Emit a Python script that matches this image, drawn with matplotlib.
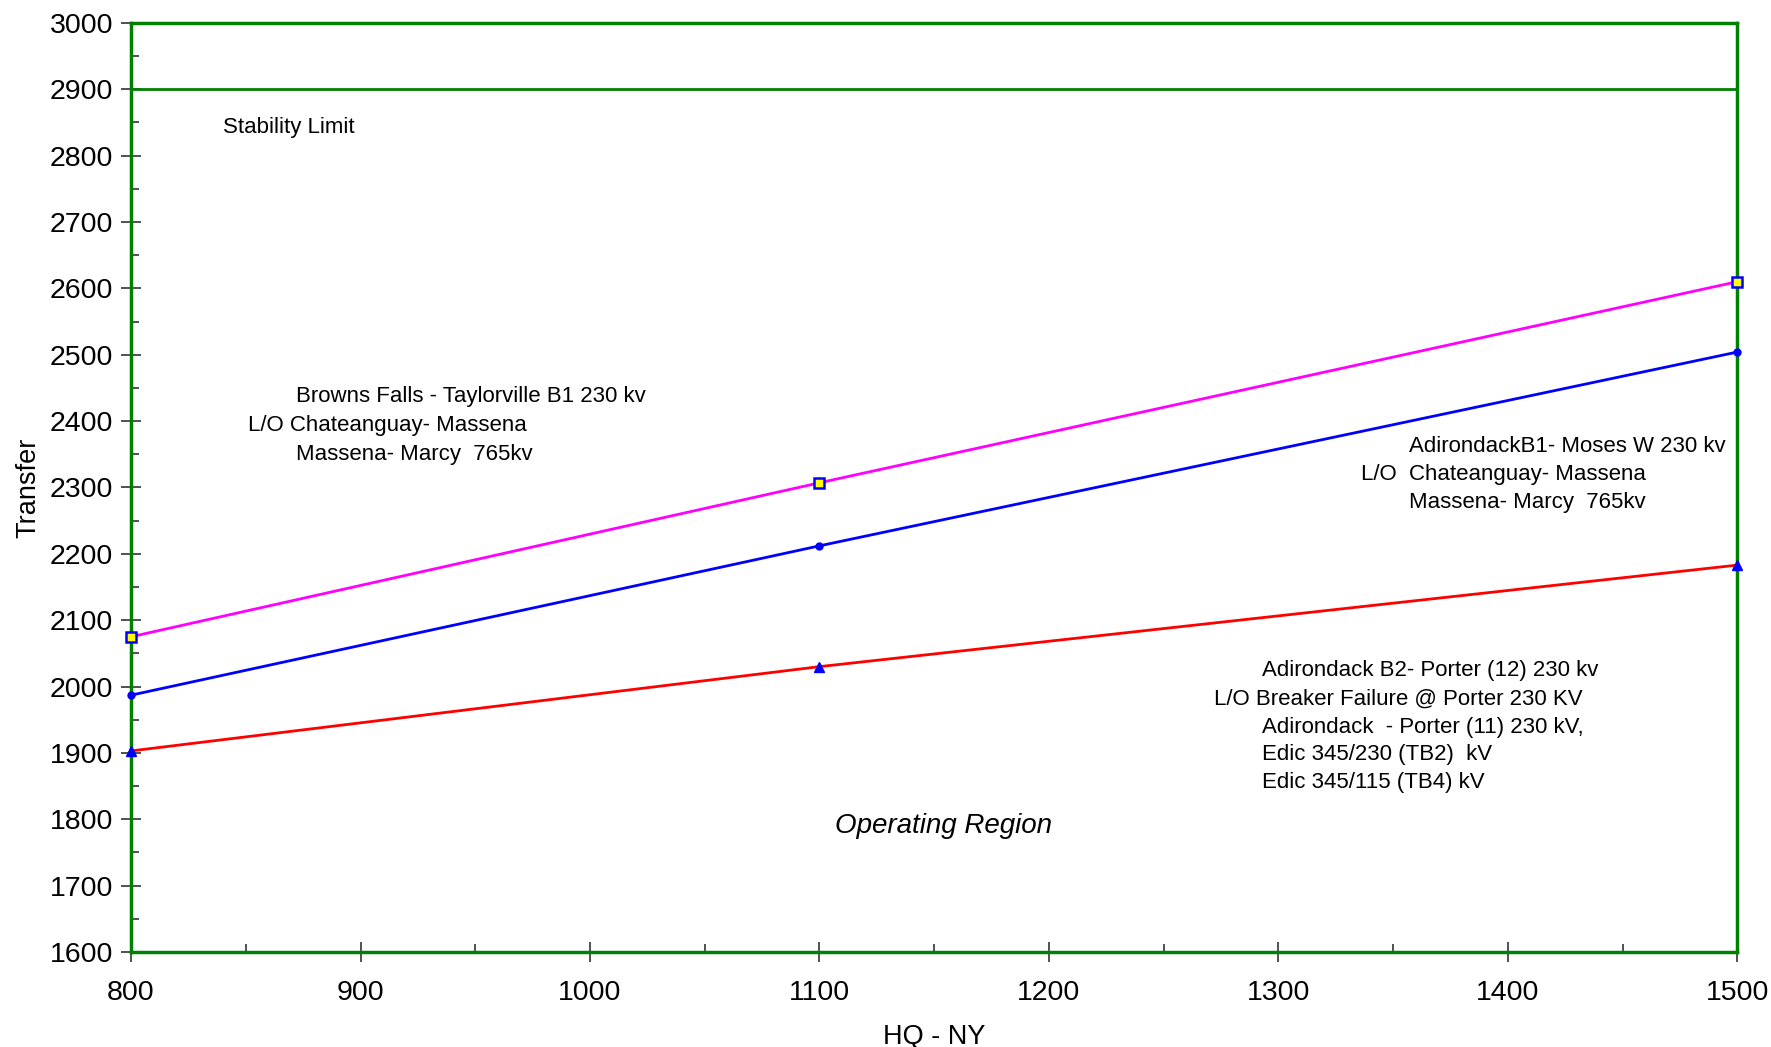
import matplotlib.pyplot as plt
from matplotlib.ticker import MultipleLocator

plt.rcParams['font.family'] = ['Liberation Sans', 'DejaVu Sans']

# data
hq_ny = [800, 1100, 1500]
browns_falls = [2075, 2307, 2610]
adirondack_b1 = [1987, 2212, 2504]
adirondack_b2 = [1903, 2030, 2183]
stability_limit = 2900

green = '#008000'

fig = plt.figure(figsize=(17.71, 10.47), dpi=100)
ax = fig.add_axes([0.074, 0.0907, 0.907, 0.8875])

# stability limit line
ax.axhline(stability_limit, color=green, linewidth=2, zorder=2)

ax.plot(hq_ny, browns_falls, color='#ff00ff', linewidth=2, marker='s',
        markersize=7, markerfacecolor='yellow', markeredgecolor='blue',
        markeredgewidth=1.8, zorder=3, clip_on=False)
ax.plot(hq_ny, adirondack_b1, color='blue', linewidth=2, marker='o',
        markersize=5, markerfacecolor='blue', markeredgecolor='blue',
        zorder=3, clip_on=False)
ax.plot(hq_ny, adirondack_b2, color='red', linewidth=2, marker='^',
        markersize=7, markerfacecolor='blue', markeredgecolor='blue',
        zorder=3, clip_on=False)

ax.set_xlim(800, 1500)
ax.set_ylim(1600, 3000)
ax.xaxis.set_major_locator(MultipleLocator(100))
ax.xaxis.set_minor_locator(MultipleLocator(50))
ax.yaxis.set_major_locator(MultipleLocator(100))
ax.yaxis.set_minor_locator(MultipleLocator(50))

ax.tick_params(which='major', direction='inout', length=14, width=1.2,
               color='#333333', labelsize=20.5, pad=13)
ax.tick_params(which='minor', direction='in', length=6, width=1.2,
               color='#333333')
ax.tick_params(axis='y', which='major', pad=6)

for s in ax.spines.values():
    s.set_color(green)
    s.set_linewidth(2.5)

ax.set_xlabel('HQ - NY', fontsize=19.5, labelpad=13)
ax.set_ylabel('Transfer', fontsize=19.5, labelpad=6)

# annotations
fs = 16
ax.text(840, 2843, 'Stability Limit', fontsize=fs, va='center')

ax.text(872, 2437, 'Browns Falls - Taylorville B1 230 kv', fontsize=fs, va='center')
ax.text(851, 2393, 'L/O Chateanguay- Massena', fontsize=fs, va='center')
ax.text(872, 2350, 'Massena- Marcy  765kv', fontsize=fs, va='center')

ax.text(1357, 2362, 'AdirondackB1- Moses W 230 kv', fontsize=fs, va='center')
ax.text(1336, 2320, 'L/O  Chateanguay- Massena', fontsize=fs, va='center')
ax.text(1357, 2277, 'Massena- Marcy  765kv', fontsize=fs, va='center')

ax.text(1293, 2024, 'Adirondack B2- Porter (12) 230 kv', fontsize=fs, va='center')
ax.text(1272, 1981, 'L/O Breaker Failure @ Porter 230 KV', fontsize=fs, va='center')
ax.text(1293, 1939, 'Adirondack  - Porter (11) 230 kV,', fontsize=fs, va='center')
ax.text(1293, 1898, 'Edic 345/230 (TB2)  kV', fontsize=fs, va='center')
ax.text(1293, 1855, 'Edic 345/115 (TB4) kV', fontsize=fs, va='center')

ax.text(1154, 1790, 'Operating Region', fontsize=20, style='italic',
        ha='center', va='center')

fig.savefig('out.png', dpi=100)
